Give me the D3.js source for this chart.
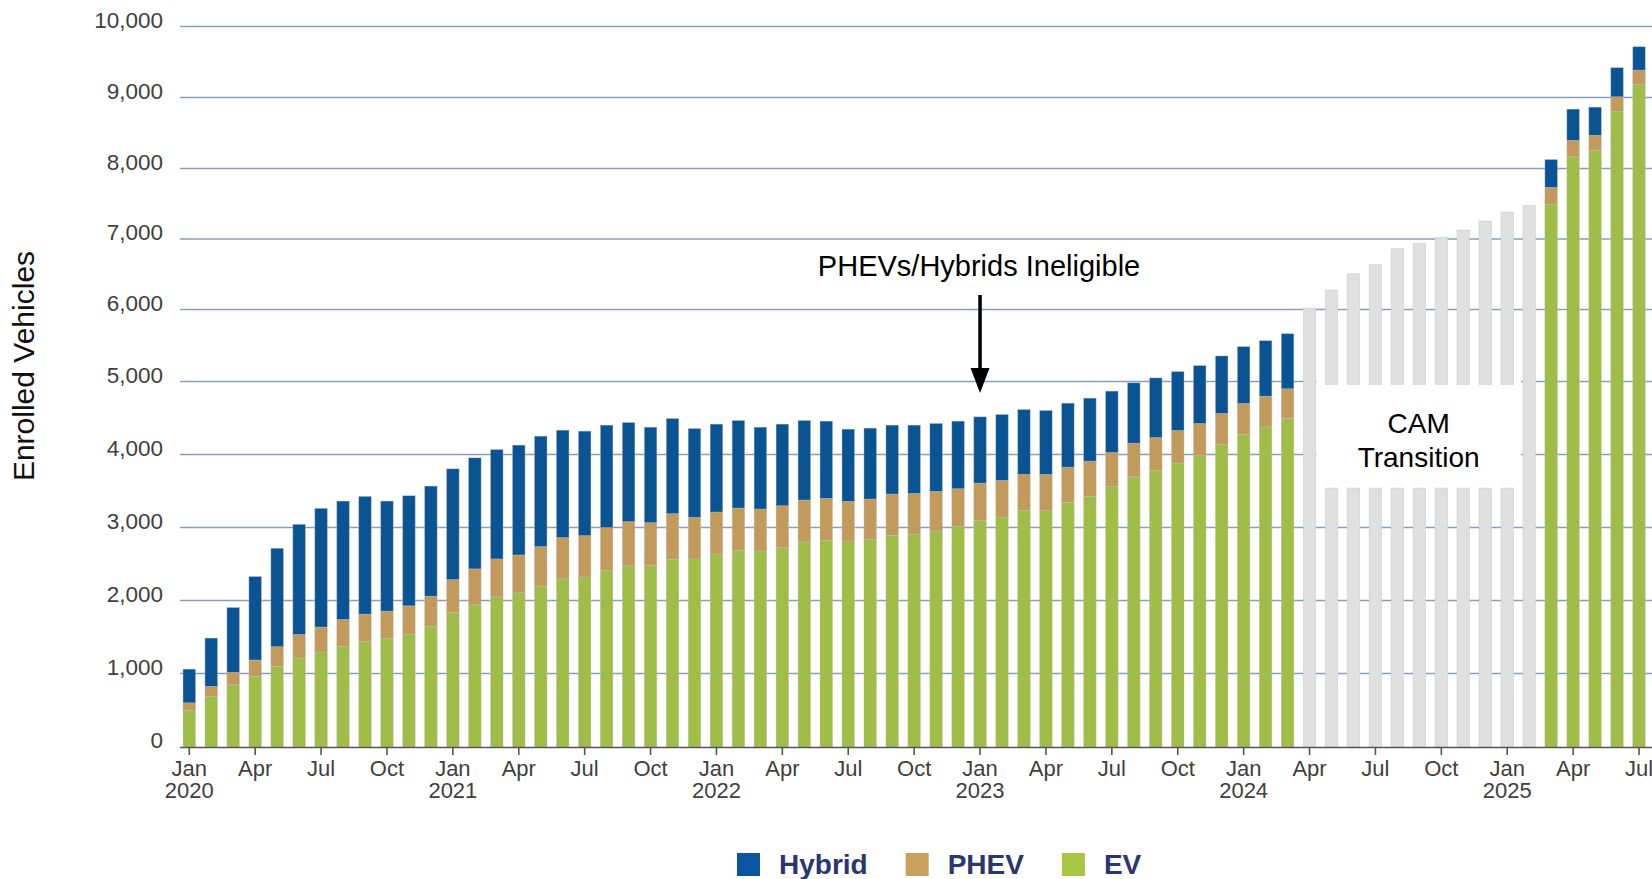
<!DOCTYPE html>
<html lang="en">
<head>
  <meta charset="utf-8">
  <title>Enrolled Vehicles</title>
  <script src="https://cdnjs.cloudflare.com/ajax/libs/d3/7.8.5/d3.min.js"></script>
  <style>
    body { margin: 0; background: #fff; }
    svg text { font-family: "Liberation Sans", Arial, sans-serif; }
  </style>
</head>
<body>
  <div id="chart"></div>
  <script>
    // months Jan 2020 .. Jul 2025
    var months = d3.timeMonth.range(new Date(2020, 0, 1), new Date(2025, 7, 1));
    var N = null;

    var ev = [497, 688, 847, 961, 1098, 1212, 1294, 1371, 1440, 1476, 1540, 1649,
      1836, 1941, 2050, 2105, 2196, 2296, 2323, 2415, 2474, 2478, 2565, 2569,
      2638, 2688, 2679, 2724, 2802, 2825, 2815, 2834, 2893, 2911, 2952, 3011,
      3093, 3144, 3230, 3230, 3344, 3426, 3559, 3695, 3777, 3882, 3982, 4141,
      4278, 4378, 4493, N, N, N, N, N, N, N, N, N, N, N,
      7495, 8164, 8257, 8800, 9188];

    var phev = [104, 137, 169, 224, 269, 323, 342, 369, 373, 378, 387, 410,
      451, 492, 519, 519, 542, 565, 565, 583, 606, 588, 624, 570,
      574, 579, 574, 574, 574, 574, 543, 556, 565, 556, 542, 520,
      515, 501, 497, 497, 483, 483, 468, 460, 455, 446, 442, 421,
      421, 421, 407, N, N, N, N, N, N, N, N, N, N, N,
      236, 233, 210, 210, 197];

    var hybrid = [459, 660, 888, 1143, 1348, 1508, 1626, 1622, 1613, 1508, 1508, 1508,
      1517, 1521, 1499, 1504, 1513, 1472, 1432, 1404, 1358, 1308, 1304, 1217,
      1204, 1199, 1121, 1118, 1090, 1058, 989, 971, 944, 935, 931, 926,
      908, 903, 889, 876, 876, 863, 841, 827, 818, 810, 797, 793,
      785, 768, 764, N, N, N, N, N, N, N, N, N, N, N,
      395, 439, 397, 410, 330];

    // CAM transition totals (gray bars)
    var transition = [N, N, N, N, N, N, N, N, N, N, N, N,
      N, N, N, N, N, N, N, N, N, N, N, N,
      N, N, N, N, N, N, N, N, N, N, N, N,
      N, N, N, N, N, N, N, N, N, N, N, N,
      N, N, N, 6019, 6277, 6507, 6636, 6861, 6938, 7024, 7127, 7255, 7382, 7472,
      N, N, N, N, N];

    var gapLow = 3540, gapHigh = 4960;   // band behind the "CAM Transition" label
    var yTicks = [0, 1000, 2000, 3000, 4000, 5000, 6000, 7000, 8000, 9000, 10000];
    // gridline pixel rows as drawn in the original (spacing is not quite even)
    var yRows = [747, 673.5, 600.5, 527.5, 454.5, 381.5, 309.5, 239, 168.5, 97.5, 26.5];
    var keys = ["EV", "PHEV", "Hybrid"];
    var colors = { EV: "#a0bd48", PHEV: "#c29a5b", Hybrid: "#0b5494" };
    var legendColors = { Hybrid: "#0a55a1", PHEV: "#c9a15c", EV: "#a9c743" };

    var width = 1652, height = 879;
    var svg = d3.select("#chart").append("svg")
      .attr("width", width).attr("height", height);

    var x = d3.scaleBand()
      .domain(d3.range(months.length))
      .range([178.3, 1650])
      .paddingInner(0.43)
      .paddingOuter(0.215);
    var y = d3.scaleLinear().domain(yTicks).range(yRows);
    var bw = x.bandwidth();

    // gridlines
    svg.append("g").selectAll("line")
      .data(yTicks.filter(function (d) { return d > 0; }))
      .enter().append("line")
      .attr("x1", 180).attr("x2", width)
      .attr("y1", function (d) { return y(d); })
      .attr("y2", function (d) { return y(d); })
      .attr("stroke", "#8d9db6")
      .attr("stroke-width", 1.3);

    // y tick labels (baseline sits on the gridline)
    svg.append("g").selectAll("text")
      .data(yTicks)
      .enter().append("text")
      .attr("x", 163)
      .attr("y", function (d) { return y(d) + 1; })
      .attr("text-anchor", "end")
      .attr("font-size", 22.5)
      .attr("fill", "#404040")
      .text(function (d) { return d3.format(",")(d); });

    // stacked bars
    var rows = months.map(function (m, i) {
      return { i: i, EV: ev[i], PHEV: phev[i], Hybrid: hybrid[i] };
    }).filter(function (d) { return d.EV !== null; });

    var stacked = d3.stack().keys(keys)(rows);

    svg.append("g").selectAll("g")
      .data(stacked)
      .enter().append("g")
      .attr("fill", function (s) { return colors[s.key]; })
      .selectAll("rect")
      .data(function (s) { return s; })
      .enter().append("rect")
      .attr("x", function (d) { return x(d.data.i); })
      .attr("width", bw)
      .attr("y", function (d) { return y(d[1]); })
      .attr("height", function (d) { return y(d[0]) - y(d[1]); })
      .attr("stroke", "rgba(190,190,190,0.55)")
      .attr("stroke-width", 0.7);

    // white label box for the transition period
    var tIdx = d3.range(months.length).filter(function (i) { return transition[i] !== null; });
    var firstT = tIdx[0], lastT = tIdx[tIdx.length - 1];
    var boxX0 = x(firstT) + bw + 0.5, boxX1 = x(lastT) - 2;
    svg.append("rect")
      .attr("x", boxX0).attr("width", boxX1 - boxX0)
      .attr("y", y(5050)).attr("height", y(gapLow) - y(5050))
      .attr("fill", "#fff");

    // gray transition bars, split around the label for the middle months
    var graySegs = [];
    tIdx.forEach(function (i) {
      if (i === firstT || i === lastT) {
        graySegs.push({ i: i, lo: 0, hi: transition[i] });
      } else {
        graySegs.push({ i: i, lo: 0, hi: gapLow });
        graySegs.push({ i: i, lo: gapHigh, hi: transition[i] });
      }
    });
    svg.append("g").selectAll("rect")
      .data(graySegs)
      .enter().append("rect")
      .attr("x", function (d) { return x(d.i); })
      .attr("width", bw)
      .attr("y", function (d) { return y(d.hi); })
      .attr("height", function (d) { return y(d.lo) - y(d.hi); })
      .attr("fill", "#e0e0e0")
      .attr("stroke", "rgba(200,200,200,0.7)")
      .attr("stroke-width", 0.7);

    svg.append("text")
      .attr("x", (boxX0 + boxX1) / 2).attr("y", 433)
      .attr("text-anchor", "middle").attr("font-size", 28).attr("fill", "#000")
      .text("CAM");
    svg.append("text")
      .attr("x", (boxX0 + boxX1) / 2).attr("y", 467)
      .attr("text-anchor", "middle").attr("font-size", 28).attr("fill", "#000")
      .text("Transition");

    // x axis
    svg.append("line")
      .attr("x1", 180).attr("x2", width)
      .attr("y1", 747.5).attr("y2", 747.5)
      .attr("stroke", "#555").attr("stroke-width", 1.6);

    var tickIdx = d3.range(0, months.length, 3);
    var monthFmt = d3.timeFormat("%b"), yearFmt = d3.timeFormat("%Y");
    var ticks = svg.append("g").selectAll("g")
      .data(tickIdx)
      .enter().append("g")
      .attr("transform", function (i) { return "translate(" + (x(i) + bw / 2) + ",0)"; });
    ticks.append("line")
      .attr("y1", 748).attr("y2", 755)
      .attr("stroke", "#555").attr("stroke-width", 1.6);
    ticks.append("text")
      .attr("y", 776)
      .attr("text-anchor", "middle").attr("font-size", 22).attr("fill", "#404040")
      .text(function (i) { return monthFmt(months[i]); });
    ticks.filter(function (i) { return months[i].getMonth() === 0; })
      .append("text")
      .attr("y", 798)
      .attr("text-anchor", "middle").attr("font-size", 22).attr("fill", "#404040")
      .text(function (i) { return yearFmt(months[i]); });

    // y axis title
    svg.append("text")
      .attr("transform", "translate(34,366) rotate(-90)")
      .attr("text-anchor", "middle")
      .attr("font-size", 30)
      .attr("fill", "#111")
      .text("Enrolled Vehicles");

    // annotation arrow at Jan 2023
    var ai = 36;
    var ax = x(ai) + bw / 2;
    var tipY = y(4842), topY = y(6206);
    svg.append("line")
      .attr("x1", ax).attr("x2", ax)
      .attr("y1", topY).attr("y2", tipY - 20)
      .attr("stroke", "#000").attr("stroke-width", 3.5);
    svg.append("path")
      .attr("d", "M" + (ax - 9.5) + "," + (tipY - 25) + "L" + (ax + 9.5) + "," + (tipY - 25) + "L" + ax + "," + tipY + "Z")
      .attr("fill", "#000");
    svg.append("text")
      .attr("x", ax - 1).attr("y", topY - 19)
      .attr("text-anchor", "middle").attr("font-size", 29).attr("fill", "#000")
      .text("PHEVs/Hybrids Ineligible");

    // legend
    var legendKeys = ["Hybrid", "PHEV", "EV"];
    var lx = 737;
    legendKeys.forEach(function (k) {
      svg.append("rect")
        .attr("x", lx).attr("y", 853)
        .attr("width", 23).attr("height", 23)
        .attr("fill", legendColors[k]);
      var t = svg.append("text")
        .attr("x", lx + 42).attr("y", 874)
        .attr("font-size", 28).attr("font-weight", "bold").attr("fill", "#2b3570")
        .text(k);
      lx = lx + 42 + t.node().getComputedTextLength() + 38;
    });
  </script>
</body>
</html>
